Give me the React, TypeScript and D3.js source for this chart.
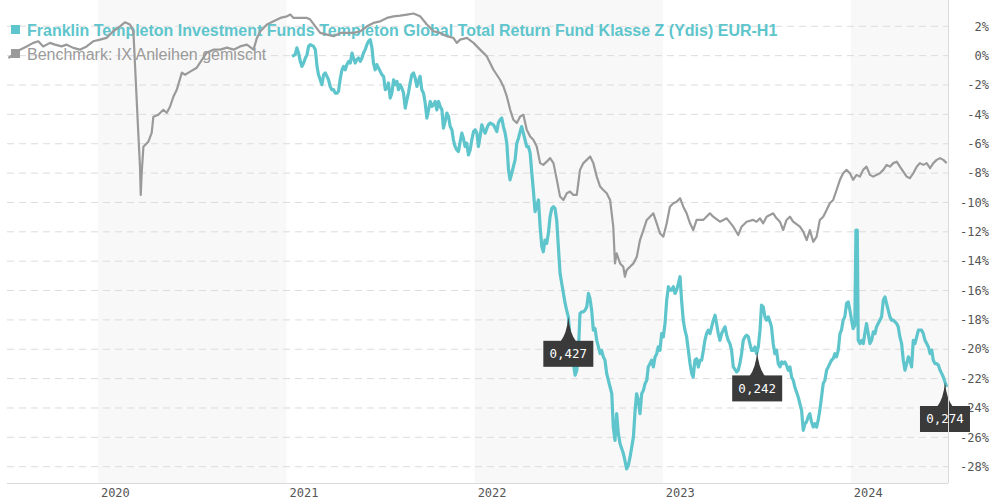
import React from "react";
import * as d3 from "d3";

const W = 990;
const H = 500;

const yearTicks = [2020, 2021, 2022, 2023, 2024];
const shadedYears = [2020, 2022, 2024];
const yTicks = [2, 0, -2, -4, -6, -8, -10, -12, -14, -16, -18, -20, -22, -24, -26, -28];
const fundName = "Franklin Templeton Investment Funds Templeton Global Total Return Fund Klasse Z (Ydis) EUR-H1";
const benchName = "Benchmark: IX Anleihen gemischt";
const distDates = [2022.498, 2023.502, 2024.499];
const distLabels = ["0,427", "0,242", "0,274"];

const benchmarkPoints: [number, number][] = [
  [2019.524,-0.16],[2019.550,0.07],[2019.586,0.41],[2019.621,0.63],[2019.656,0.87],[2019.683,0.98],[2019.709,0.63],[2019.745,0.87],[2019.772,0.75],[2019.807,0.63],[2019.834,0.75],[2019.869,0.53],[2019.904,0.41],[2019.940,0.63],[2019.975,0.98],[2020.011,1.09],[2020.046,1.21],[2020.081,1.66],[2020.117,2.00],[2020.143,2.27],[2020.170,2.12],[2020.188,1.66],[2020.214,-5.26],[2020.223,-7.58],[2020.227,-9.49],[2020.232,-7.99],[2020.241,-6.21],[2020.267,-5.87],[2020.285,-5.26],[2020.294,-4.16],[2020.320,-4.03],[2020.347,-3.69],[2020.365,-3.89],[2020.382,-3.48],[2020.400,-2.80],[2020.418,-2.32],[2020.445,-1.16],[2020.462,-1.30],[2020.489,-1.09],[2020.524,-0.82],[2020.559,-0.14],[2020.577,0.20],[2020.612,0.41],[2020.648,0.41],[2020.684,0.55],[2020.719,0.41],[2020.754,0.63],[2020.790,0.75],[2020.825,0.41],[2020.843,1.21],[2020.861,1.66],[2020.896,2.12],[2020.931,2.34],[2020.967,2.57],[2021.002,2.68],[2021.020,2.80],[2021.037,2.57],[2021.073,2.57],[2021.109,2.57],[2021.126,2.46],[2021.153,2.00],[2021.179,1.55],[2021.215,1.43],[2021.250,1.32],[2021.286,1.55],[2021.321,1.55],[2021.356,1.55],[2021.392,1.66],[2021.427,2.00],[2021.462,2.23],[2021.498,2.34],[2021.534,2.57],[2021.569,2.68],[2021.604,2.73],[2021.640,2.80],[2021.675,2.87],[2021.710,2.68],[2021.746,2.12],[2021.781,1.66],[2021.817,1.55],[2021.852,1.32],[2021.887,1.21],[2021.905,0.87],[2021.923,1.09],[2021.959,1.21],[2021.994,0.87],[2022.029,0.41],[2022.065,-0.05],[2022.100,-0.96],[2022.135,-1.64],[2022.153,-2.10],[2022.171,-2.78],[2022.189,-3.69],[2022.206,-4.37],[2022.224,-4.59],[2022.242,-4.14],[2022.259,-4.03],[2022.277,-5.05],[2022.295,-5.51],[2022.312,-5.73],[2022.330,-6.19],[2022.348,-7.32],[2022.365,-7.44],[2022.383,-7.22],[2022.401,-6.98],[2022.419,-7.32],[2022.437,-8.46],[2022.454,-9.60],[2022.472,-9.83],[2022.490,-9.37],[2022.507,-9.26],[2022.525,-9.49],[2022.543,-9.49],[2022.560,-7.78],[2022.578,-7.32],[2022.596,-7.10],[2022.614,-6.87],[2022.631,-7.32],[2022.649,-8.24],[2022.667,-8.92],[2022.684,-9.15],[2022.702,-9.37],[2022.720,-9.83],[2022.737,-11.65],[2022.746,-14.15],[2022.755,-13.47],[2022.773,-14.15],[2022.790,-14.38],[2022.799,-15.06],[2022.808,-14.61],[2022.826,-14.38],[2022.844,-14.15],[2022.862,-13.70],[2022.879,-12.56],[2022.897,-11.88],[2022.915,-11.19],[2022.932,-10.97],[2022.950,-10.74],[2022.968,-11.42],[2022.985,-12.10],[2023.003,-12.33],[2023.021,-11.42],[2023.038,-10.29],[2023.056,-10.05],[2023.074,-9.95],[2023.092,-9.71],[2023.109,-10.29],[2023.127,-10.74],[2023.145,-11.42],[2023.162,-11.88],[2023.180,-11.19],[2023.215,-11.19],[2023.251,-10.74],[2023.268,-10.97],[2023.304,-11.31],[2023.340,-11.08],[2023.375,-11.65],[2023.401,-12.22],[2023.419,-11.65],[2023.446,-11.31],[2023.481,-11.19],[2023.499,-11.31],[2023.517,-11.08],[2023.534,-11.42],[2023.552,-10.97],[2023.587,-10.74],[2023.605,-11.08],[2023.623,-11.31],[2023.640,-11.88],[2023.658,-11.19],[2023.676,-10.97],[2023.693,-11.31],[2023.729,-11.65],[2023.747,-11.99],[2023.765,-12.56],[2023.782,-11.88],[2023.800,-12.68],[2023.818,-12.33],[2023.835,-11.19],[2023.853,-10.97],[2023.871,-10.51],[2023.888,-10.05],[2023.906,-9.83],[2023.924,-9.15],[2023.942,-8.46],[2023.959,-8.01],[2023.977,-7.78],[2023.995,-8.01],[2024.012,-8.46],[2024.030,-8.12],[2024.048,-8.24],[2024.065,-7.78],[2024.083,-7.56],[2024.101,-8.12],[2024.118,-8.24],[2024.154,-8.01],[2024.172,-7.78],[2024.190,-7.44],[2024.207,-7.56],[2024.225,-7.32],[2024.243,-7.22],[2024.260,-7.56],[2024.278,-7.90],[2024.296,-8.24],[2024.313,-8.35],[2024.331,-8.01],[2024.349,-7.56],[2024.366,-7.32],[2024.384,-7.44],[2024.402,-7.32],[2024.420,-7.67],[2024.437,-7.32],[2024.455,-7.10],[2024.473,-6.98],[2024.490,-7.10],[2024.508,-7.32]
];

const fundPoints: [number, number][] = [
  [2021.029,-0.05],[2021.046,0.07],[2021.055,0.53],[2021.064,0.18],[2021.073,-0.39],[2021.082,-0.73],[2021.091,-0.50],[2021.100,-0.16],[2021.109,0.07],[2021.117,0.63],[2021.126,0.75],[2021.144,0.63],[2021.153,0.41],[2021.162,-0.73],[2021.170,-1.30],[2021.179,-1.64],[2021.188,-1.98],[2021.197,-1.30],[2021.206,-1.18],[2021.215,-1.41],[2021.223,-1.64],[2021.232,-2.10],[2021.241,-2.32],[2021.250,-2.32],[2021.259,-2.55],[2021.268,-2.55],[2021.276,-2.44],[2021.286,-1.52],[2021.295,-0.96],[2021.303,-0.73],[2021.312,-0.96],[2021.321,-0.61],[2021.330,-0.39],[2021.339,-0.50],[2021.348,0.18],[2021.356,-0.16],[2021.365,-0.50],[2021.374,-0.27],[2021.383,-0.16],[2021.392,-0.39],[2021.401,-0.16],[2021.409,0.18],[2021.418,0.41],[2021.427,0.75],[2021.436,0.98],[2021.445,1.09],[2021.454,0.53],[2021.462,-0.50],[2021.471,-0.96],[2021.480,-0.61],[2021.489,-0.84],[2021.498,-1.07],[2021.507,-1.30],[2021.516,-1.41],[2021.525,-2.32],[2021.534,-2.20],[2021.542,-1.86],[2021.551,-2.89],[2021.560,-2.55],[2021.569,-1.64],[2021.578,-1.98],[2021.587,-1.75],[2021.595,-2.32],[2021.604,-1.98],[2021.613,-2.20],[2021.622,-2.55],[2021.631,-3.57],[2021.640,-3.00],[2021.648,-2.55],[2021.657,-1.86],[2021.666,-1.30],[2021.675,-1.18],[2021.684,-1.52],[2021.693,-2.10],[2021.701,-1.75],[2021.710,-1.41],[2021.719,-2.32],[2021.728,-2.55],[2021.737,-3.23],[2021.746,-4.25],[2021.755,-3.69],[2021.764,-3.12],[2021.773,-3.46],[2021.781,-3.34],[2021.790,-3.12],[2021.799,-3.69],[2021.808,-3.12],[2021.817,-3.46],[2021.826,-3.69],[2021.834,-4.94],[2021.843,-4.48],[2021.852,-3.91],[2021.861,-4.14],[2021.870,-4.83],[2021.879,-5.05],[2021.887,-5.73],[2021.896,-6.19],[2021.905,-6.42],[2021.914,-6.53],[2021.923,-5.85],[2021.932,-5.28],[2021.940,-5.62],[2021.949,-6.19],[2021.958,-5.96],[2021.967,-6.76],[2021.976,-6.42],[2021.985,-5.73],[2021.994,-5.17],[2022.003,-5.05],[2022.012,-5.28],[2022.020,-6.19],[2022.029,-5.51],[2022.038,-4.71],[2022.047,-5.05],[2022.056,-5.28],[2022.065,-4.94],[2022.073,-4.71],[2022.082,-4.59],
  [2022.100,-4.71],[2022.118,-5.17],[2022.126,-4.59],[2022.135,-4.37],[2022.144,-4.25],[2022.153,-4.83],[2022.162,-5.28],[2022.171,-5.96],[2022.180,-7.78],[2022.188,-8.46],[2022.197,-8.01],[2022.206,-7.56],[2022.215,-7.10],[2022.224,-5.96],[2022.233,-5.62],[2022.242,-5.17],[2022.250,-4.83],[2022.259,-5.28],[2022.268,-5.73],[2022.277,-6.19],[2022.286,-6.19],[2022.295,-6.64],[2022.304,-8.01],[2022.312,-9.15],[2022.321,-10.63],[2022.330,-10.29],[2022.339,-9.83],[2022.348,-11.65],[2022.357,-13.01],[2022.365,-13.36],[2022.374,-12.56],[2022.383,-12.79],[2022.392,-12.10],[2022.401,-10.97],[2022.410,-10.40],[2022.419,-10.29],[2022.427,-10.40],[2022.436,-11.19],[2022.445,-13.01],[2022.454,-14.83],[2022.463,-15.52],[2022.472,-16.20],[2022.481,-16.88],[2022.489,-17.34],[2022.498,-17.79],[2022.507,-19.16],[2022.516,-20.07],[2022.525,-20.98],[2022.534,-21.77],[2022.543,-21.43],[2022.551,-20.30],[2022.560,-17.57],[2022.569,-17.45],[2022.578,-17.45],[2022.587,-17.34],[2022.596,-17.11],[2022.605,-16.20],[2022.613,-16.54],[2022.622,-17.34],[2022.631,-18.70],[2022.640,-18.59],[2022.649,-19.39],[2022.658,-19.84],[2022.667,-20.30],[2022.675,-20.07],[2022.684,-20.52],[2022.693,-20.75],[2022.702,-21.66],[2022.711,-22.12],[2022.720,-22.57],[2022.729,-23.03],[2022.737,-25.30],[2022.746,-26.21],[2022.755,-24.39],[2022.764,-25.76],[2022.773,-26.44],[2022.782,-26.78],[2022.791,-27.12],[2022.799,-27.58],[2022.808,-28.15],[2022.817,-27.92],[2022.826,-27.35],[2022.835,-26.67],[2022.844,-25.98],[2022.853,-24.16],[2022.861,-23.03],[2022.870,-23.48],[2022.879,-24.39],[2022.888,-23.03],[2022.897,-22.80],[2022.906,-22.34],[2022.915,-22.12],[2022.923,-21.20],[2022.932,-20.98],[2022.941,-20.75],[2022.950,-21.20],[2022.959,-20.52],[2022.968,-20.30],[2022.976,-19.84],[2022.985,-20.07],[2022.994,-18.93],[2023.003,-19.16],[2023.012,-18.25],[2023.021,-16.65],[2023.030,-15.74],[2023.038,-15.97],[2023.047,-15.97],[2023.056,-15.74],[2023.065,-16.20],[2023.074,-15.97],[2023.083,-15.52],[2023.092,-15.06],[2023.100,-16.65],[2023.109,-18.02],[2023.118,-18.70],[2023.127,-19.16],[2023.136,-20.07],[2023.145,-20.98],[2023.154,-21.66],[2023.162,-21.89],[2023.171,-20.75],[2023.180,-20.64],[2023.189,-21.21],[2023.198,-20.75],[2023.207,-20.75],[2023.216,-20.07],[2023.224,-19.39],[2023.233,-18.93],[2023.242,-18.70],[2023.251,-18.93],[2023.260,-18.47],[2023.269,-18.02],[2023.278,-17.68],[2023.286,-18.25],[2023.295,-18.93],[2023.304,-19.39],[2023.313,-18.93],[2023.322,-18.70],[2023.331,-18.47],[2023.340,-19.04],[2023.348,-19.39],
  [2023.357,-19.61],[2023.366,-20.07],[2023.375,-21.20],[2023.393,-21.55],[2023.401,-21.43],[2023.410,-20.98],[2023.419,-20.30],[2023.428,-19.39],[2023.437,-19.16],[2023.446,-19.04],[2023.455,-19.16],[2023.463,-19.61],[2023.472,-20.07],[2023.481,-20.07],[2023.490,-19.84],[2023.499,-20.30],[2023.508,-19.84],[2023.517,-18.70],[2023.525,-17.00],[2023.534,-17.11],[2023.543,-17.79],[2023.552,-18.02],[2023.561,-17.79],[2023.570,-18.13],[2023.578,-18.47],[2023.587,-19.61],[2023.596,-20.30],[2023.605,-20.07],[2023.614,-20.98],[2023.623,-21.20],[2023.632,-20.86],[2023.640,-20.98],[2023.649,-20.86],[2023.658,-21.09],[2023.667,-21.43],[2023.676,-21.20],[2023.685,-21.89],[2023.694,-22.12],[2023.702,-22.57],[2023.711,-22.91],[2023.720,-23.25],[2023.729,-23.71],[2023.738,-24.16],[2023.747,-25.53],[2023.756,-25.07],[2023.764,-24.96],[2023.773,-24.62],[2023.782,-24.39],[2023.791,-24.96],[2023.800,-25.30],[2023.809,-25.07],[2023.818,-25.30],[2023.826,-24.85],[2023.835,-24.16],[2023.844,-23.25],[2023.853,-22.34],[2023.862,-22.12],[2023.871,-21.43],[2023.880,-21.20],[2023.888,-20.98],[2023.897,-20.75],[2023.906,-20.64],[2023.915,-20.30],[2023.924,-20.52],[2023.933,-20.07],[2023.942,-18.93],[2023.950,-18.70],[2023.959,-18.02],[2023.968,-17.79],[2023.977,-16.88],[2023.986,-16.77],[2023.995,-17.34],[2024.004,-18.02],[2024.012,-18.59],[2024.021,-18.36],[2024.027,-11.88],[2024.034,-11.88],[2024.039,-19.39],[2024.048,-19.61],[2024.057,-19.39],[2024.066,-19.61],[2024.074,-18.93],[2024.083,-18.25],[2024.092,-18.93],[2024.101,-19.61],[2024.110,-19.39],[2024.119,-18.82],[2024.128,-18.93],[2024.136,-18.47],[2024.145,-18.25],[2024.154,-18.02],[2024.163,-17.79],[2024.172,-16.66],[2024.181,-16.43],[2024.189,-16.88],[2024.198,-17.34],[2024.207,-17.79],[2024.216,-18.02],[2024.225,-18.02],[2024.234,-18.13],[2024.243,-18.25],[2024.251,-18.47],[2024.260,-19.16],[2024.269,-19.61],[2024.278,-20.75],[2024.287,-21.43],[2024.296,-20.98],[2024.305,-20.52],[2024.313,-20.75],[2024.322,-21.20],[2024.331,-19.39],[2024.340,-19.61],[2024.349,-19.16],[2024.358,-18.70],[2024.367,-18.70],[2024.375,-18.70],[2024.384,-18.93],[2024.393,-19.39],[2024.402,-19.61],[2024.411,-19.84],[2024.420,-20.30],[2024.429,-20.07],[2024.437,-20.75],[2024.446,-20.98],[2024.455,-20.98],[2024.464,-21.09],[2024.473,-21.43],[2024.482,-21.66],[2024.490,-21.89],[2024.499,-22.23],[2024.508,-22.57]
];

const TEAL = "#5ec5cc";
const GRAY = "#9a9a9a";

function toDate(y: number): Date {
  const Y = Math.floor(y);
  const s = new Date(Y, 0, 1).getTime();
  const e = new Date(Y + 1, 0, 1).getTime();
  return new Date(s + (y - Y) * (e - s));
}

export default function App() {
  const plotLeft = 7;
  const plotRight = 948;
  const plotBottom = 483;
  const x = d3.scaleTime().domain([toDate(2019.5166), toDate(2024.515)]).range([plotLeft, plotRight]);
  const y = d3.scaleLinear().domain([-28, 2]).range([466.7, 26.3]);

  const line = d3
    .line<[number, number]>()
    .x((d) => x(toDate(d[0])))
    .y((d) => y(d[1]));

  const fundAt = (t: number) => {
    const i = d3.bisector((d: [number, number]) => d[0]).left(fundPoints, t);
    const a = fundPoints[Math.max(0, i - 1)];
    const b = fundPoints[Math.min(fundPoints.length - 1, i)];
    if (a[0] === b[0]) return a[1];
    return a[1] + ((t - a[0]) / (b[0] - a[0])) * (b[1] - a[1]);
  };

  const domain = x.domain();
  const mono = "'DejaVu Sans Mono', monospace";
  const sans = "'Liberation Sans', Arial, sans-serif";

  return (
    <div style={{ position: "fixed", left: 0, top: 0 }}>
      <svg width={W} height={H} style={{ display: "block", background: "#fff" }}>
        {shadedYears.map((yr) => {
          const s = Math.max(+toDate(yr), +domain[0]);
          const e = Math.min(+toDate(yr + 1), +domain[1]);
          return (
            <rect key={yr} x={x(new Date(s))} y={0} width={x(new Date(e)) - x(new Date(s))} height={plotBottom} fill="#f8f8f8" />
          );
        })}
        {yTicks.map((v) => (
          <line key={v} x1={plotLeft} x2={plotRight} y1={y(v)} y2={y(v)} stroke="#dcdcdc" strokeWidth={1} strokeDasharray="7,5" />
        ))}
        <line x1={plotLeft} x2={plotRight} y1={plotBottom + 0.5} y2={plotBottom + 0.5} stroke="#dadada" strokeWidth={1} />
        {yTicks.map((v) => (
          <text key={v} x={989} y={y(v)} dy="0.35em" textAnchor="end" fontFamily={mono} fontSize={12} fill="#555">
            {`${v}%`}
          </text>
        ))}
        {yearTicks.map((yr) => (
          <text key={yr} x={x(toDate(yr)) + 3} y={497} fontFamily={mono} fontSize={12} fill="#555">
            {yr}
          </text>
        ))}
        <rect x={11} y={25} width={9} height={9} fill={TEAL} />
        <text x={27} y={35.5} fontFamily={sans} fontSize={16} fontWeight="bold" fill={TEAL}>
          {fundName}
        </text>
        <rect x={11} y={49} width={9} height={9} fill={GRAY} />
        <text x={27} y={59.5} fontFamily={sans} fontSize={16} fill={GRAY}>
          {benchName}
        </text>
        <path d={line(benchmarkPoints) || ""} fill="none" stroke={GRAY} strokeWidth={2.2} strokeLinejoin="round" />
        <path d={line(fundPoints) || ""} fill="none" stroke={TEAL} strokeWidth={3.2} strokeLinejoin="round" />
        {distDates.map((t, i) => {
          const cx = x(toDate(t));
          const ty = y(fundAt(t));
          const top = ty + 24;
          const bw = 50;
          const bh = 26;
          return (
            <g key={t}>
              <path
                d={`M${cx},${ty} Q${cx - 1.5},${ty + 17} ${cx - 8},${top + 1} L${cx + 8},${top + 1} Q${cx + 1.5},${ty + 17} ${cx},${ty} Z`}
                fill="#3a3a3a"
              />
              <rect x={cx - bw / 2} y={top} width={bw} height={bh} fill="#3a3a3a" />
              <text x={cx} y={top + bh / 2} dy="0.36em" textAnchor="middle" fontFamily={mono} fontSize={12.5} fill="#fff">
                {distLabels[i]}
              </text>
            </g>
          );
        })}
        <line x1={plotRight + 0.5} x2={plotRight + 0.5} y1={0} y2={plotBottom} stroke="#dadada" strokeWidth={1} />
      </svg>
    </div>
  );
}
